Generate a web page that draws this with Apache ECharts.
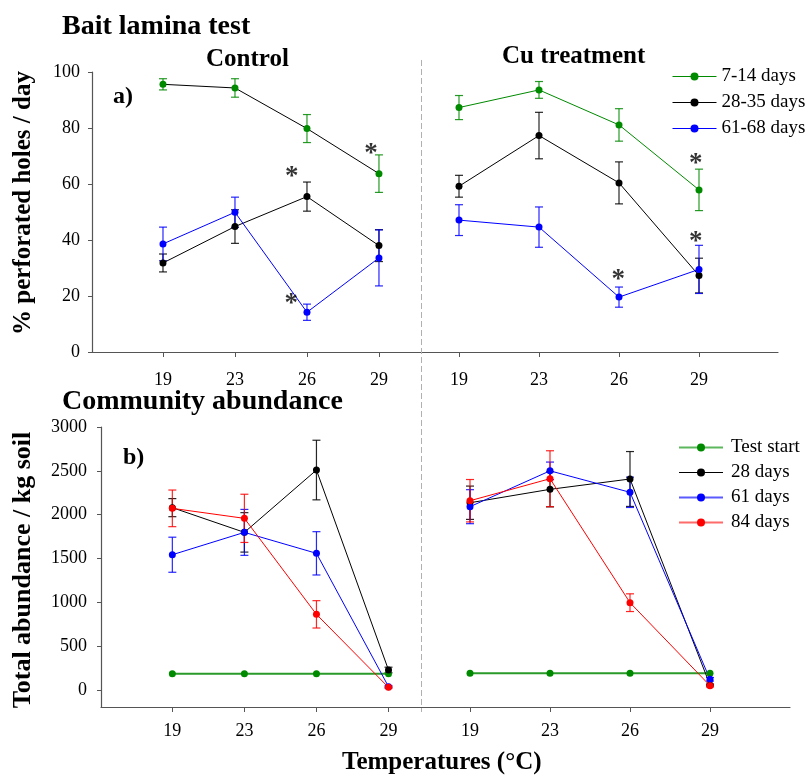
<!DOCTYPE html>
<html>
<head>
<meta charset="utf-8">
<script src="https://cdn.jsdelivr.net/npm/echarts@6/dist/echarts.min.js"></script>
<style>html,body{margin:0;padding:0;background:#fff}#c{width:808px;height:776px}</style>
</head>
<body>
<div id="c"></div>
<script>
// ---------- data ----------
const temps = ['19', '23', '26', '29'];
const xIdx = [0, 1, 2, 3];

// a) Bait lamina test (% perforated holes / day)
const ctrlGreen = [95.6, 94.3, 79.8, 63.7];
const ctrlGreenErr = [2.0, 3.3, 5.0, 6.7];
const ctrlBlack = [31.8, 44.8, 55.5, 38.0];
const ctrlBlackErr = [3.2, 6.0, 5.2, 5.7];
const ctrlBlue = [38.6, 49.9, 14.2, 33.6];
const ctrlBlueErr = [6.0, 5.4, 2.9, 10.0];

const cuGreen = [87.3, 93.6, 81.1, 57.9];
const cuGreenErr = [4.3, 3.0, 5.8, 7.4];
const cuBlack = [59.2, 77.3, 60.4, 27.3];
const cuBlackErr = [3.9, 8.3, 7.5, 6.2];
const cuBlue = [47.1, 44.6, 19.6, 29.5];
const cuBlueErr = [5.5, 7.2, 3.6, 8.6];

// significance asterisks (data coords)
const ctrlStarX = [2.89, 1.79, 1.78];
const ctrlStarY = [73.3, 65.0, 19.8];
const cuStarX = [2.96, 2.96, 1.99];
const cuStarY = [69.8, 41.8, 28.1];

// b) Community abundance (Total abundance / kg soil)
const abCtrlStart = [186, 186, 186, 186];
const abCtrl28 = [2080, 1798, 2509, 228];
const abCtrl28Err = [103, 225, 340, 32];
const abCtrl61 = [1543, 1798, 1559, 38];
const abCtrl61Err = [200, 262, 247, 10];
const abCtrl84 = [2072, 1958, 863, 30];
const abCtrl84Err = [209, 275, 156, 10];

const abCuStart = [190, 190, 190, 190];
const abCu28 = [2136, 2289, 2407, 57];
const abCu28Err = [190, 200, 313, 10];
const abCu61 = [2091, 2500, 2255, 122];
const abCu61Err = [194, 100, 173, 20];
const abCu84 = [2159, 2410, 996, 49];
const abCu84Err = [242, 319, 101, 15];

const yTicksA = [0, 20, 40, 60, 80, 100];
const yTicksB = [0, 500, 1000, 1500, 2000, 2500, 3000];

const legendTop = ['7-14 days', '28-35 days', '61-68 days'];
const legendBottom = ['Test start', '28 days', '61 days', '84 days'];

// ---------- styles ----------
const GREEN = '#008a00', BLACK = '#000000', BLUE = '#0000ff', RED = '#ff0000';
const FONT = 'Liberation Serif';
const AXC = '#555555';
const TICKFS = 18;

function pts(vals) { return vals.map((v, i) => [xIdx[i], v]); }
function errs(vals, e) { return vals.map((v, i) => [xIdx[i], v - e[i], v + e[i]]); }

function errRender(params, api) {
  const x = api.value(0), lo = api.value(1), hi = api.value(2);
  const p1 = api.coord([x, hi]);
  const p2 = api.coord([x, lo]);
  const c = api.visual('color');
  const w = 4;
  const st = { stroke: c, lineWidth: 1.2, opacity: 0.85 };
  return {
    type: 'group',
    children: [
      { type: 'line', shape: { x1: p1[0], y1: p1[1], x2: p2[0], y2: p2[1] }, style: st },
      { type: 'line', shape: { x1: p1[0] - w, y1: p1[1], x2: p1[0] + w, y2: p1[1] }, style: st },
      { type: 'line', shape: { x1: p2[0] - w, y1: p2[1], x2: p2[0] + w, y2: p2[1] }, style: st }
    ]
  };
}

function lineSeries(name, vals, grid, color, lineColor) {
  return {
    name: name, type: 'line', xAxisIndex: grid, yAxisIndex: grid,
    data: pts(vals), symbol: 'circle', symbolSize: 7,
    itemStyle: { color: color },
    lineStyle: { color: lineColor || color, width: 1 },
    z: 3, animation: false
  };
}
function errSeries(vals, e, grid, color) {
  return {
    type: 'custom', xAxisIndex: grid, yAxisIndex: grid,
    renderItem: errRender, data: errs(vals, e),
    itemStyle: { color: color }, z: 2, animation: false, silent: true
  };
}
function starSeries(xs, ys, grid) {
  return {
    type: 'scatter', xAxisIndex: grid, yAxisIndex: grid,
    data: xs.map((x, i) => [x, ys[i]]), symbolSize: 0,
    label: { show: true, formatter: '*', position: 'inside', fontFamily: FONT, fontSize: 27, fontWeight: 'bold', color: '#000', offset: [0, 7] },
    z: 5, animation: false, silent: true
  };
}

function xAxisDef(grid, min, max, labelMargin) {
  return {
    type: 'value', gridIndex: grid, min: min, max: max,
    axisLine: { show: true, onZero: false, lineStyle: { color: AXC, width: 1.2 } },
    axisTick: { show: true, customValues: xIdx, length: 5, lineStyle: { color: AXC } },
    axisLabel: { show: true, customValues: xIdx, formatter: v => temps[Math.round(v)], fontFamily: FONT, fontSize: TICKFS, color: '#000', margin: labelMargin },
    splitLine: { show: false }
  };
}

const grids = [
  { left: 92, top: 72, width: 328, height: 280 },
  { left: 420, top: 72, width: 358, height: 280 },
  { left: 101, top: 427, width: 361, height: 280 },
  { left: 462, top: 427, width: 328, height: 280 }
];

const titleStyle = (fs) => ({ fontFamily: FONT, fontSize: fs, fontWeight: 'bold', color: '#000' });

const option = {
  backgroundColor: '#fff',
  animation: false,
  grid: grids,
  title: [
    { text: 'Bait lamina test', left: 57, top: 8, textStyle: titleStyle(28) },
    { text: 'Control', left: 201, top: 42, textStyle: titleStyle(25) },
    { text: 'Cu treatment', left: 497, top: 39, textStyle: titleStyle(25) },
    { text: 'a)', left: 108, top: 80, textStyle: titleStyle(24) },
    { text: 'Community abundance', left: 57, top: 383, textStyle: titleStyle(28) },
    { text: 'b)', left: 118, top: 441, textStyle: titleStyle(24) },
    { text: 'Temperatures (°C)', left: 337, top: 745, textStyle: titleStyle(25) }
  ],
  xAxis: [
    xAxisDef(0, -0.986, 3.57, 19),
    xAxisDef(1, -0.4875, 3.9875, 19),
    xAxisDef(2, -0.99, 4.02, 15),
    xAxisDef(3, -0.1, 4.0, 15)
  ],
  yAxis: [
    {
      type: 'value', gridIndex: 0, min: 0, max: 100,
      axisLine: { show: true, onZero: false, lineStyle: { color: AXC, width: 1.2 } },
      axisTick: { show: true, length: 4, customValues: yTicksA, lineStyle: { color: AXC } },
      axisLabel: { customValues: yTicksA, formatter: v => String(v), fontFamily: FONT, fontSize: TICKFS, color: '#000', margin: 12 },
      splitLine: { show: false }
    },
    {
      type: 'value', gridIndex: 1, min: 0, max: 100, show: false, splitLine: { show: false }
    },
    {
      type: 'value', gridIndex: 2, min: -194, max: 3000,
      axisLine: { show: true, onZero: false, lineStyle: { color: AXC, width: 1.2 } },
      axisTick: { show: true, length: 4, customValues: yTicksB, lineStyle: { color: AXC } },
      axisLabel: { customValues: yTicksB, formatter: v => String(v), fontFamily: FONT, fontSize: TICKFS, color: '#000', margin: 14 },
      splitLine: { show: false }
    },
    {
      type: 'value', gridIndex: 3, min: -194, max: 3000, show: false, splitLine: { show: false }
    }
  ],
  legend: [
    {
      orient: 'vertical', left: 667, top: 62, itemWidth: 44, itemHeight: 10, itemGap: 7,
      textStyle: { fontFamily: FONT, fontSize: 19, color: '#000', padding: [0, 0, 0, 0] },
      data: [
        { name: legendTop[0], itemStyle: { color: GREEN }, lineStyle: { color: GREEN, width: 1 } },
        { name: legendTop[1], itemStyle: { color: BLACK }, lineStyle: { color: BLACK, width: 1 } },
        { name: legendTop[2], itemStyle: { color: BLUE }, lineStyle: { color: BLUE, width: 1 } }
      ]
    },
    {
      orient: 'vertical', left: 673, top: 433, itemWidth: 44, itemHeight: 10, itemGap: 6,
      textStyle: { fontFamily: FONT, fontSize: 19, color: '#000', padding: [0, 0, 0, 3] },
      data: [
        { name: legendBottom[0], itemStyle: { color: GREEN }, lineStyle: { color: '#5cb85c', width: 2 } },
        { name: legendBottom[1], itemStyle: { color: BLACK }, lineStyle: { color: BLACK, width: 1 } },
        { name: legendBottom[2], itemStyle: { color: BLUE }, lineStyle: { color: '#5a5aff', width: 2 } },
        { name: legendBottom[3], itemStyle: { color: RED }, lineStyle: { color: '#ff6a6a', width: 2 } }
      ]
    }
  ],
  graphic: [
    { type: 'line', shape: { x1: 421.5, y1: 60, x2: 421.5, y2: 712 }, style: { stroke: '#b0b0b0', lineWidth: 1, lineDash: [6, 3] }, z: 1 },
    { type: 'text', x: 24, y: 203, rotation: Math.PI / 2, style: { text: '% perforated holes / day', fontFamily: FONT, fontSize: 25, fontWeight: 'bold', fill: '#000', align: 'center', verticalAlign: 'middle' } },
    { type: 'text', x: 23, y: 570, rotation: Math.PI / 2, style: { text: 'Total abundance / kg soil', fontFamily: FONT, fontSize: 26, fontWeight: 'bold', fill: '#000', align: 'center', verticalAlign: 'middle' } }
  ],
  series: [
    // a) control
    errSeries(ctrlGreen, ctrlGreenErr, 0, GREEN),
    errSeries(ctrlBlack, ctrlBlackErr, 0, BLACK),
    errSeries(ctrlBlue, ctrlBlueErr, 0, BLUE),
    lineSeries(legendTop[0], ctrlGreen, 0, GREEN, BLACK),
    lineSeries(legendTop[1], ctrlBlack, 0, BLACK),
    lineSeries(legendTop[2], ctrlBlue, 0, BLUE),
    starSeries(ctrlStarX, ctrlStarY, 0),
    // a) Cu
    errSeries(cuGreen, cuGreenErr, 1, GREEN),
    errSeries(cuBlack, cuBlackErr, 1, BLACK),
    errSeries(cuBlue, cuBlueErr, 1, BLUE),
    lineSeries(legendTop[0], cuGreen, 1, GREEN),
    lineSeries(legendTop[1], cuBlack, 1, BLACK),
    lineSeries(legendTop[2], cuBlue, 1, BLUE),
    starSeries(cuStarX, cuStarY, 1),
    // b) control
    errSeries(abCtrl28, abCtrl28Err, 2, BLACK),
    errSeries(abCtrl61, abCtrl61Err, 2, BLUE),
    errSeries(abCtrl84, abCtrl84Err, 2, RED),
    lineSeries(legendBottom[0], abCtrlStart, 2, GREEN),
    lineSeries(legendBottom[1], abCtrl28, 2, BLACK),
    lineSeries(legendBottom[2], abCtrl61, 2, BLUE),
    lineSeries(legendBottom[3], abCtrl84, 2, RED),
    // b) Cu
    errSeries(abCu28, abCu28Err, 3, BLACK),
    errSeries(abCu61, abCu61Err, 3, BLUE),
    errSeries(abCu84, abCu84Err, 3, RED),
    lineSeries(legendBottom[0], abCuStart, 3, GREEN),
    lineSeries(legendBottom[1], abCu28, 3, BLACK),
    lineSeries(legendBottom[2], abCu61, 3, BLUE),
    lineSeries(legendBottom[3], abCu84, 3, RED)
  ]
};
option.series.forEach(s => {
  if (s.name === 'Test start') { s.lineStyle = { color: '#2a9a2a', width: 2 }; }
});

const chart = echarts.init(document.getElementById('c'), null, { renderer: 'canvas' });
chart.setOption(option);
</script>
</body>
</html>
